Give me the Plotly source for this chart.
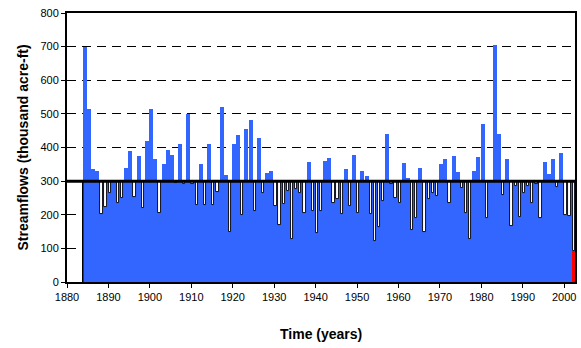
import plotly.graph_objects as go

# ---- data ----
years = list(range(1884, 2003))
flows = [
    700, 515, 336, 330, 201, 223, 264, 297, 236, 251,   # 1884-1893
    340, 390, 254, 375, 221, 419, 516, 366, 205, 351,   # 1894-1903
    393, 377, 293, 410, 292, 500, 291, 229, 350, 229,   # 1904-1913
    410, 229, 268, 521, 318, 150, 410, 436, 199, 454,   # 1914-1923
    482, 210, 429, 264, 324, 331, 226, 170, 232, 270,   # 1924-1933
    127, 276, 264, 205, 358, 210, 147, 210, 360, 368,   # 1934-1943
    236, 247, 203, 335, 226, 378, 204, 330, 315, 201,   # 1944-1953
    121, 165, 240, 441, 291, 251, 236, 353, 308, 154,   # 1954-1963
    191, 338, 149, 246, 264, 256, 350, 366, 236, 376,   # 1964-1973
    326, 279, 206, 127, 330, 373, 471, 191, 298, 704,   # 1974-1983
    440, 259, 366, 167, 285, 192, 266, 286, 236, 290,   # 1984-1993
    190, 357, 321, 366, 282, 383, 198, 196, 92,         # 1994-2002
]
MEAN = 300
highlight_year = 2002
x_ticks = list(range(1880, 2001, 10))
y_ticks = list(range(0, 801, 100))

BLUE = "#3366FF"
RED = "#FF0000"
FONT = "Liberation Sans, Arial, sans-serif"

above = [(y, v) for y, v in zip(years, flows) if v > MEAN]
below = [(y, v) for y, v in zip(years, flows) if v < MEAN]
hl = [(y, v) for y, v in zip(years, flows) if y == highlight_year]

fig = go.Figure()

# blue "mean" band for every year
fig.add_trace(go.Bar(
    x=years, y=[MEAN] * len(years), base=0, width=1, offset=-0.2,
    marker=dict(color=BLUE, line=dict(width=0)), hoverinfo="skip",
))
# highlighted latest year
fig.add_trace(go.Bar(
    x=[h[0] for h in hl], y=[h[1] for h in hl], base=0, width=1, offset=-0.2,
    marker=dict(color=RED, line=dict(width=0)),
))
# surplus above mean
fig.add_trace(go.Bar(
    x=[a[0] for a in above], y=[a[1] - MEAN for a in above], base=MEAN,
    width=0.95, offset=-0.175,
    marker=dict(color=BLUE, line=dict(width=0)),
))
# deficit below mean
fig.add_trace(go.Bar(
    x=[b[0] for b in below], y=[MEAN - b[1] for b in below],
    base=[b[1] for b in below], width=0.55, offset=0.02,
    marker=dict(color="white", line=dict(color="black", width=0.9)),
))

x_start = years[0] - 0.2
fig.update_layout(
    width=581, height=348,
    margin=dict(l=67, r=4, t=13, b=66),
    paper_bgcolor="white", plot_bgcolor="white",
    barmode="overlay", bargap=0, showlegend=False,
    font=dict(family=FONT, color="black"),
    shapes=[
        dict(type="line", xref="x", yref="y", x0=1880, x1=2002.6,
             y0=MEAN, y1=MEAN, line=dict(color="black", width=3), layer="above"),
        dict(type="line", xref="x", yref="y", x0=x_start, x1=x_start,
             y0=0, y1=MEAN, line=dict(color="black", width=1.5), layer="above"),
    ],
    annotations=[
        dict(text="<b>Streamflows (thousand acre-ft)</b>", xref="paper", yref="paper",
             x=0, y=0.5, xshift=-45, textangle=-90, showarrow=False,
             xanchor="center", yanchor="middle", font=dict(size=14, family=FONT)),
        dict(text="<b>Time (years)</b>", xref="paper", yref="paper",
             x=0.5, y=0, yshift=-52, showarrow=False,
             xanchor="center", yanchor="middle", font=dict(size=14, family=FONT)),
    ],
)
fig.update_xaxes(
    range=[1880, 2002.6], tickvals=x_ticks, ticks="outside", ticklen=4,
    tickcolor="black", showline=True, linecolor="black", linewidth=2, mirror=True,
    showgrid=False, zeroline=False, tickfont=dict(size=11, family=FONT),
)
fig.update_yaxes(
    range=[0, 800], tickvals=y_ticks, ticks="outside", ticklen=4,
    tickcolor="black", showline=True, linecolor="black", linewidth=2, mirror=True,
    showgrid=True, gridcolor="black", gridwidth=1, griddash="9px,6px",
    zeroline=False, tickfont=dict(size=11, family=FONT),
)

fig.write_html("out.html", config={"displayModeBar": False},
               post_script="document.body.style.margin='0';")
